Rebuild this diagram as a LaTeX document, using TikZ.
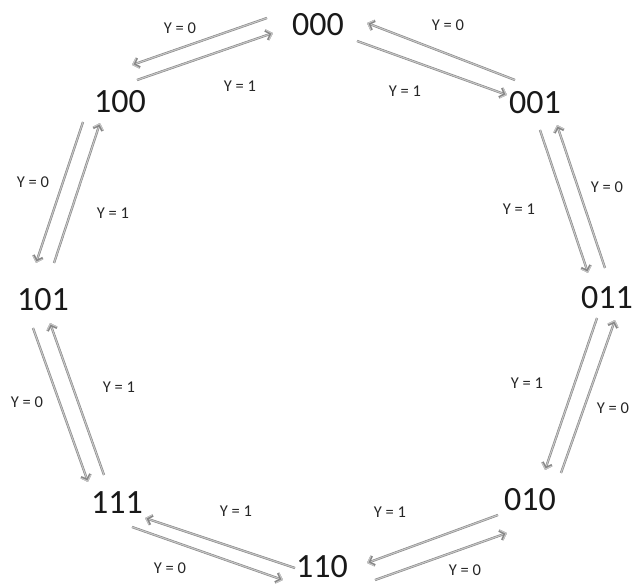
\documentclass[tikz,border=0pt]{standalone}
\usepackage{fontspec}
\setmainfont{Carlito}
\usetikzlibrary{arrows.meta,decorations.markings}
\tikzset{
  state/.style={inner sep=0pt, text=black!90, font=\fontsize{34}{38}\selectfont},
  lab/.style={inner sep=0pt, text=black!85, font=\fontsize{16.5}{19}\selectfont},
  trans/.style={draw=gray!95, double=gray!45, double distance=1.1pt, line width=0.6pt,
    shorten >=1pt,
    postaction={decorate, decoration={markings,
      mark=at position 1 with {\arrow[gray!95, line width=2.6pt]{Straight Barb[length=5pt,width=10pt]}
                               \arrow[gray!45, line width=1.1pt]{Straight Barb[length=5pt,width=10pt]}}}}},
}
\begin{document}
\begin{tikzpicture}[x=1pt,y=-1pt]
\useasboundingbox (0,0) rectangle (633,585);
% states
\node[state] (n000) at (318,25) {000};
\node[state] (n001) at (535,103) {001};
\node[state] (n011) at (607,298) {011};
\node[state] (n010) at (530,500) {010};
\node[state] (n110) at (322,567) {110};
\node[state] (n111) at (117,503) {111};
\node[state] (n101) at (43,300) {101};
\node[state] (n100) at (120,102) {100};
% arrow end points
\coordinate (a1s) at (267,18);  \coordinate (a1e) at (132,65);
\coordinate (a2s) at (137,80);  \coordinate (a2e) at (273,33);
\coordinate (a3s) at (515,80);  \coordinate (a3e) at (367,23);
\coordinate (a4s) at (357,41);  \coordinate (a4e) at (507,95);
\coordinate (a5s) at (540,130); \coordinate (a5e) at (588,273);
\coordinate (a6s) at (605,268); \coordinate (a6e) at (557,125);
\coordinate (a7s) at (597,318); \coordinate (a7e) at (545,470);
\coordinate (a8s) at (561,473); \coordinate (a8e) at (615,320);
\coordinate (a9s) at (498,515); \coordinate (a9e) at (367,563);
\coordinate (a10s) at (375,580); \coordinate (a10e) at (507,533);
\coordinate (a11s) at (295,568); \coordinate (a11e) at (145,518);
\coordinate (a12s) at (132,527); \coordinate (a12e) at (283,580);
\coordinate (a13s) at (104,475); \coordinate (a13e) at (50,323);
\coordinate (a14s) at (33,328);  \coordinate (a14e) at (88,482);
\coordinate (a15s) at (54,263);  \coordinate (a15e) at (100,123);
\coordinate (a16s) at (83,122);  \coordinate (a16e) at (36,263);
% transitions
\foreach \i in {1,...,16} { \draw[trans] (a\i s) -- (a\i e); }
% labels
\node[lab] (l1) at (180,28) {Y = 0};
\node[lab] (l2) at (240,86) {Y = 1};
\node[lab] (l3) at (448,25) {Y = 0};
\node[lab] (l4) at (405,91) {Y = 1};
\node[lab] (l5) at (607,187) {Y = 0};
\node[lab] (l6) at (519,209) {Y = 1};
\node[lab] (l7) at (613,408) {Y = 0};
\node[lab] (l8) at (527,383) {Y = 1};
\node[lab] (l9) at (465,570) {Y = 0};
\node[lab] (l10) at (390,512) {Y = 1};
\node[lab] (l11) at (170,568) {Y = 0};
\node[lab] (l12) at (236,511) {Y = 1};
\node[lab] (l13) at (27,402) {Y = 0};
\node[lab] (l14) at (119,387) {Y = 1};
\node[lab] (l15) at (33,182) {Y = 0};
\node[lab] (l16) at (113,213) {Y = 1};
\end{tikzpicture}
\end{document}
